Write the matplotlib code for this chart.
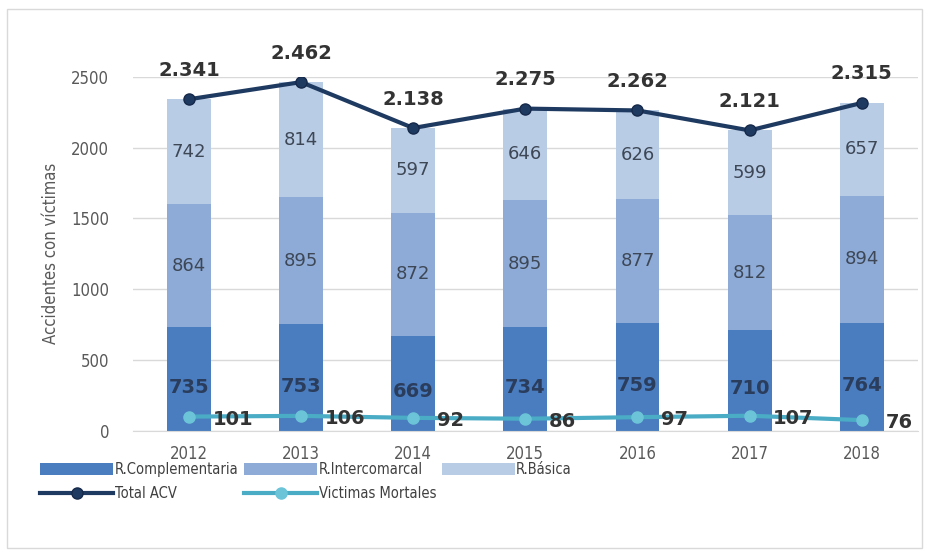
import numpy as np
import matplotlib.pyplot as plt
from matplotlib.patches import Rectangle

plt.rcParams['font.family'] = ['DejaVu Sans']
plt.rcParams['font.stretch'] = 'condensed'

years = ['2012', '2013', '2014', '2015', '2016', '2017', '2018']
complementaria = [735, 753, 669, 734, 759, 710, 764]
intercomarcal = [864, 895, 872, 895, 877, 812, 894]
basica = [742, 814, 597, 646, 626, 599, 657]
total_acv = [2341, 2462, 2138, 2275, 2262, 2121, 2315]
victimas = [101, 106, 92, 86, 97, 107, 76]

c_comp = '#4a7dbf'
c_inter = '#8eabd7'
c_bas = '#b9cce5'
c_total = '#1f3a60'
c_vict = '#4bacc6'

fig = plt.figure(figsize=(9.29, 5.56), dpi=100)
ax = fig.add_axes([0.143, 0.225, 0.845, 0.637])

x = np.arange(len(years))
w = 0.39
comp = np.array(complementaria)
inter = np.array(intercomarcal)
bas = np.array(basica)

b1 = ax.bar(x, comp, w, color=c_comp, label='R.Complementaria', zorder=2)
b2 = ax.bar(x, inter, w, bottom=comp, color=c_inter, label='R.Intercomarcal', zorder=2)
b3 = ax.bar(x, bas, w, bottom=comp + inter, color=c_bas, label='R.Básica', zorder=2)

l1, = ax.plot(x, total_acv, color=c_total, lw=3, marker='o', ms=8,
              mfc=c_total, mec='#16294a', label='Total ACV', zorder=4)
l2, = ax.plot(x, victimas, color=c_vict, lw=3, marker='o', ms=8,
              mfc='#6cc4d8', mec='#6cc4d8', label='Victimas Mortales', zorder=4)

# etiquetas de los segmentos
for i in range(len(years)):
    ax.text(x[i], comp[i] * 0.42, str(comp[i]), ha='center', va='center', fontstretch='normal',
            fontsize=14, fontweight='bold', color='#2b3d5c', zorder=5)
    ax.text(x[i], comp[i] + inter[i] / 2, str(inter[i]), ha='center', va='center',
            fontsize=13, color='#3d4756', fontstretch='normal', zorder=5)
    ax.text(x[i], comp[i] + inter[i] + bas[i] / 2, str(bas[i]), ha='center', va='center',
            fontsize=13, color='#3d4756', fontstretch='normal', zorder=5)
    t = f'{total_acv[i] // 1000}.{total_acv[i] % 1000:03d}'
    ax.annotate(t, (x[i], total_acv[i]), xytext=(0, 14), textcoords='offset points',
                ha='center', va='bottom', fontsize=14, fontweight='bold', fontstretch='normal',
                color='#333333', annotation_clip=False, zorder=5)
    ax.annotate(str(victimas[i]), (x[i], victimas[i]), xytext=(17, -2), textcoords='offset points',
                ha='left', va='center', fontsize=14, fontweight='bold', fontstretch='normal',
                color='#333333', zorder=5)

ax.set_xlim(-0.5, 6.5)
ax.set_ylim(0, 2500)
ax.set_yticks([0, 500, 1000, 1500, 2000, 2500])
ax.set_xticks(x)
ax.set_xticklabels(years)
ax.grid(axis='y', color='#d9d9d9', lw=1, zorder=0)
for s in ['top', 'right', 'left']:
    ax.spines[s].set_visible(False)
ax.spines['bottom'].set_color('#d9d9d9')
ax.tick_params(axis='both', length=0, colors='#595959', labelsize=12)
ax.tick_params(axis='y', pad=17)
ax.tick_params(axis='x', pad=10)
ax.set_ylabel('Accidentes con víctimas', fontsize=12, color='#595959', labelpad=8)

fig.legend([b1, l1, b2, l2, b3], ['R.Complementaria', 'Total ACV', 'R.Intercomarcal',
                                   'Victimas Mortales', 'R.Básica'],
           ncol=3, loc='upper left', bbox_to_anchor=(0.037, 0.18), frameon=False,
           fontsize=10.5, labelcolor='#404040', handlelength=5.0, handleheight=0.9,
           handletextpad=0.1, columnspacing=0.4, labelspacing=0.65, borderaxespad=0)

fig.add_artist(Rectangle((0.008, 0.015), 0.984, 0.968, transform=fig.transFigure,
                         fill=False, edgecolor='#d9d9d9', lw=1))

fig.savefig('out.png', dpi=100)
